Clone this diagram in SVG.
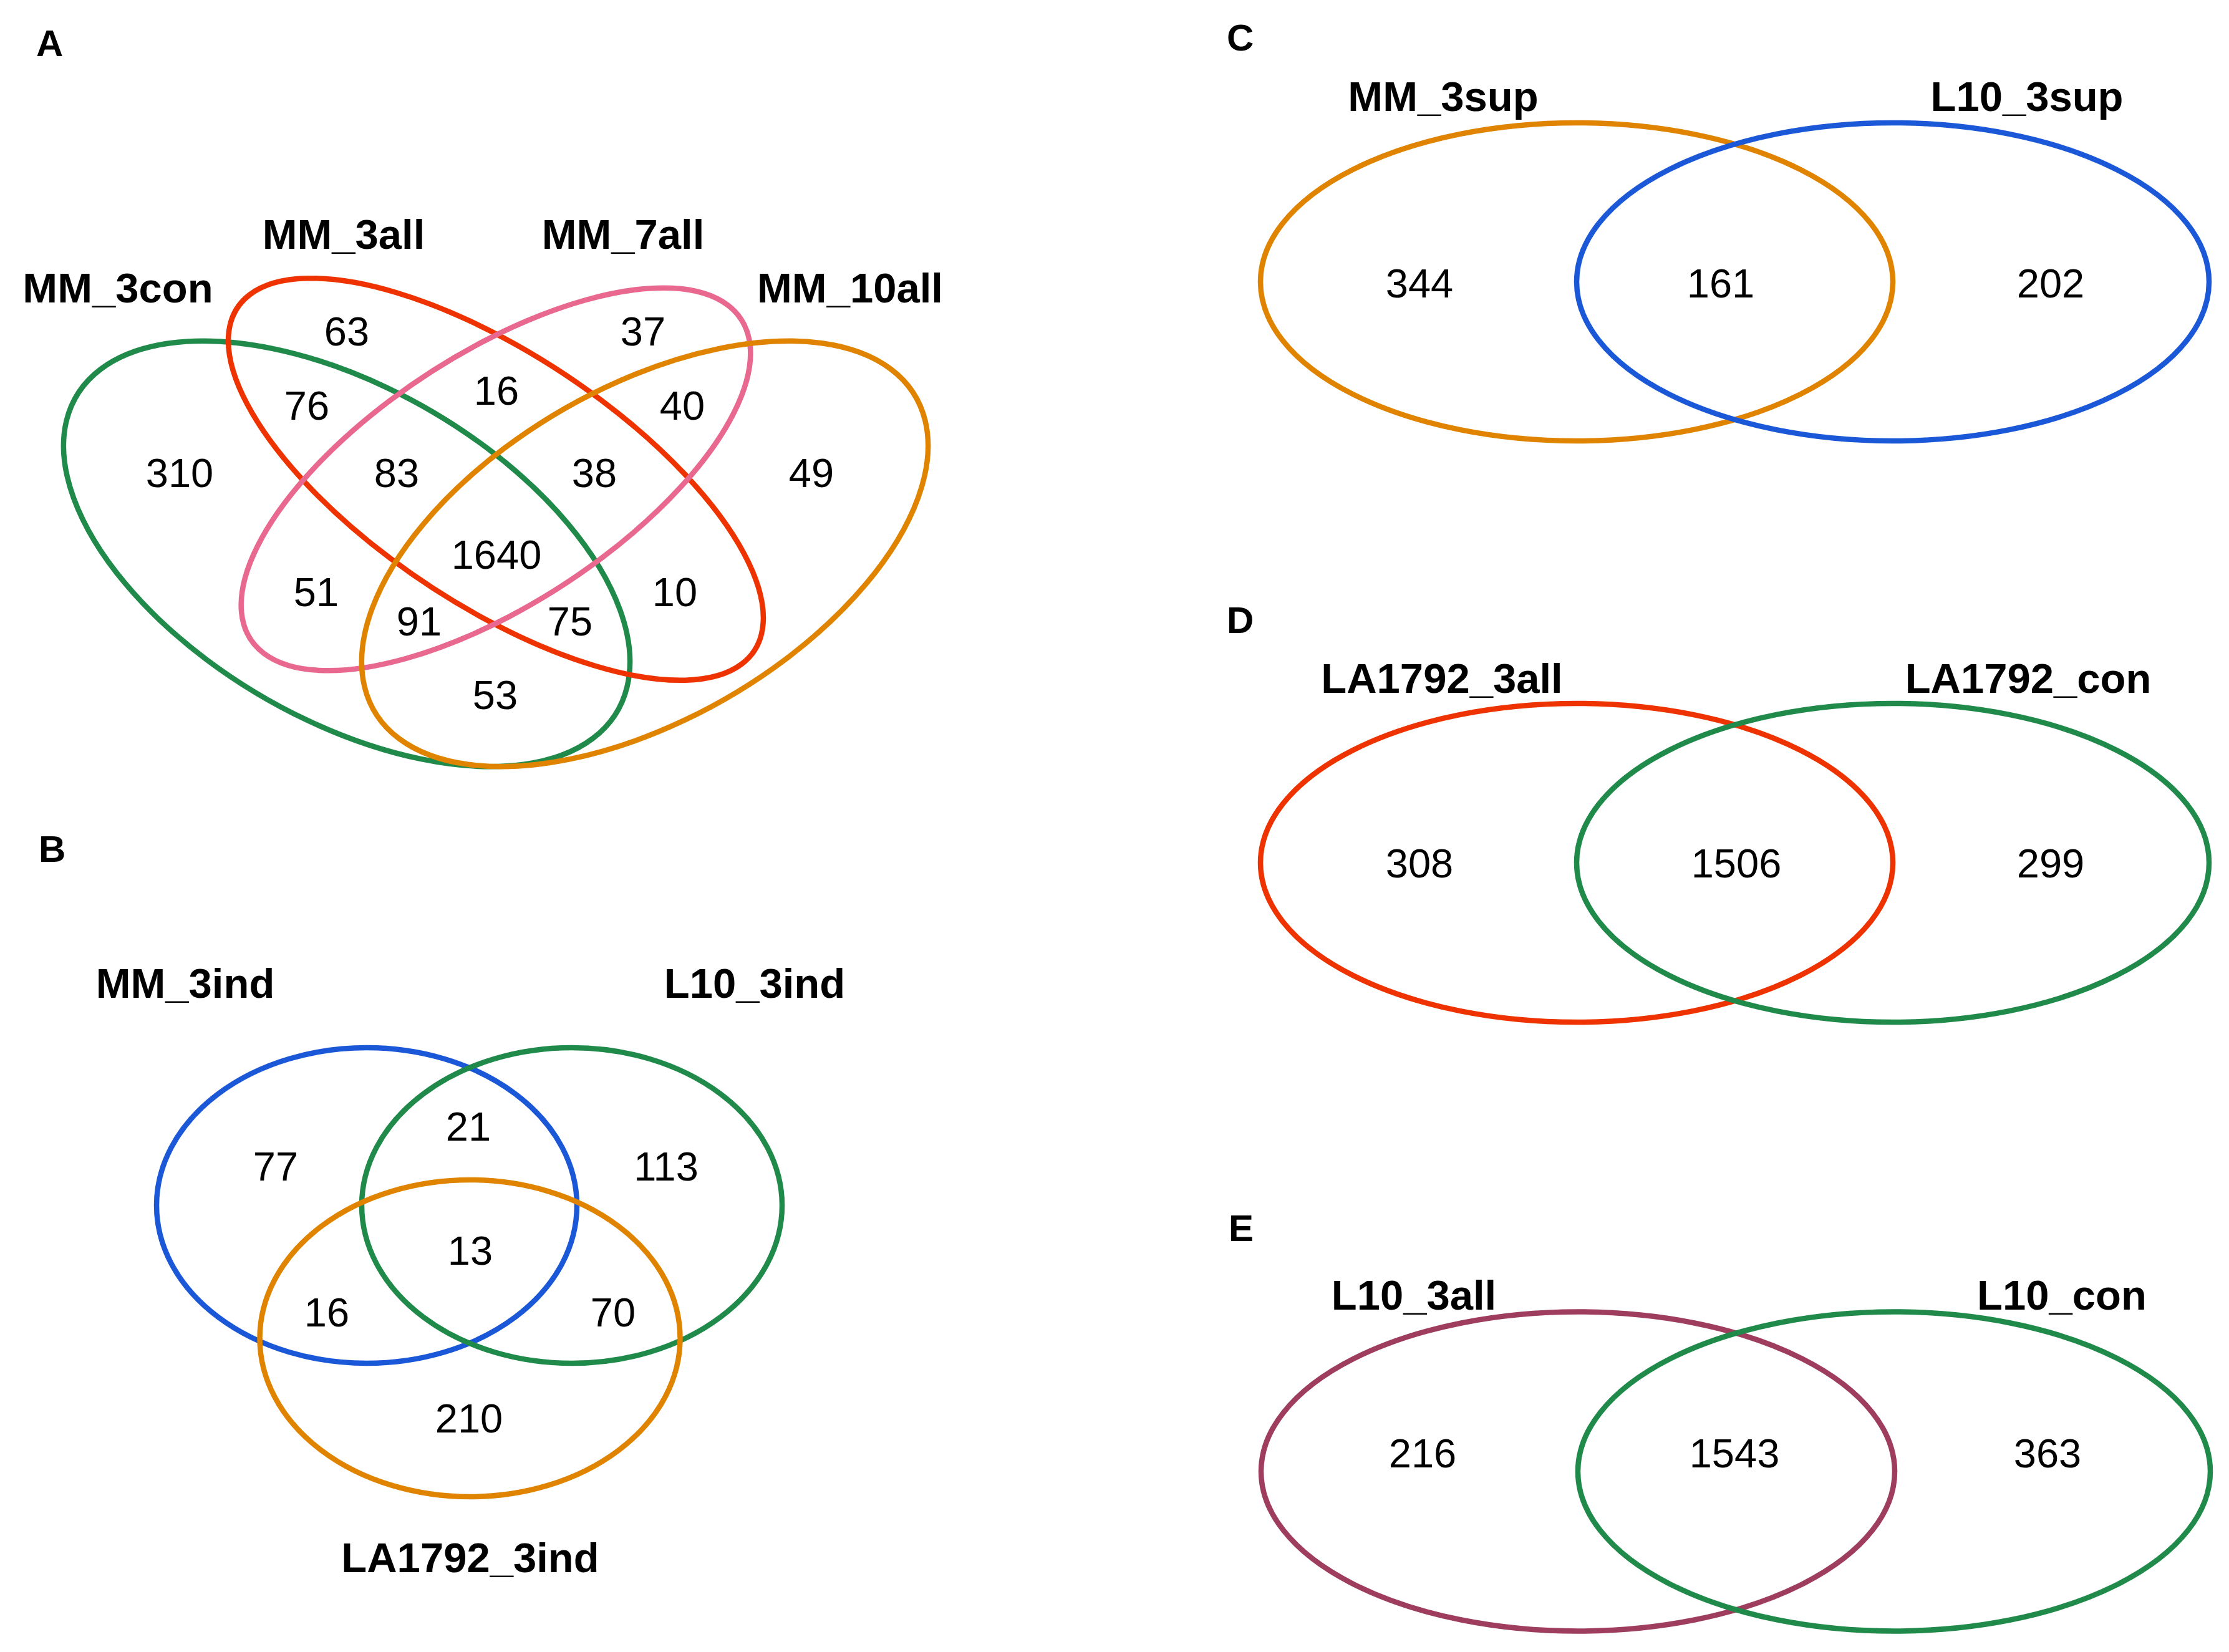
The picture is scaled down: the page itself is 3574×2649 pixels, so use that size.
<svg xmlns="http://www.w3.org/2000/svg" width="3574" height="2649" viewBox="0 0 3574 2649">
<style>
.bg{fill:#ffffff}
.set{fill:none;stroke-width:8.5}
.ns{vector-effect:non-scaling-stroke}
.lbl{font-family:"Liberation Sans",Arial,sans-serif;font-weight:bold;font-size:67px;fill:#000;text-anchor:middle}
.num{font-family:"Liberation Sans",Arial,sans-serif;font-size:65px;fill:#000;text-anchor:middle}
.pl{font-family:"Liberation Sans",Arial,sans-serif;font-weight:bold;font-size:60px;fill:#000}
.green{stroke:#1F8A4A}
.red{stroke:#EE3300}
.pink{stroke:#E8688F}
.orange{stroke:#E08400}
.blue{stroke:#1A58D8}
.maroon{stroke:#9E3D5E}
</style>
<rect class="bg" x="0" y="0" width="3574" height="2649"/>

<!-- Panel A -->
<g id="panelA">
  <text class="pl" x="58" y="90">A</text>
  <g id="A_MM_3con">
    <ellipse class="set ns green" cx="0" cy="0" rx="0.35" ry="0.20" transform="translate(556,888) scale(1593,1197) rotate(45)"/>
    <text class="lbl" x="189" y="485">MM_3con</text>
  </g>
  <g id="A_MM_3all">
    <ellipse class="set ns red" cx="0" cy="0" rx="0.35" ry="0.15" transform="translate(795,768.5) scale(1593,1197) rotate(45)"/>
    <text class="lbl" x="551" y="399">MM_3all</text>
  </g>
  <g id="A_MM_7all">
    <ellipse class="set ns pink" cx="0" cy="0" rx="0.33" ry="0.15" transform="translate(795,768.5) scale(1593,1197) rotate(-45)"/>
    <text class="lbl" x="999" y="399">MM_7all</text>
  </g>
  <g id="A_MM_10all">
    <ellipse class="set ns orange" cx="0" cy="0" rx="0.35" ry="0.20" transform="translate(1034,888) scale(1593,1197) rotate(-45)"/>
    <text class="lbl" x="1363" y="485">MM_10all</text>
  </g>
  <g id="A_counts">
    <text class="num" x="556" y="554">63</text>
    <text class="num" x="1031" y="554">37</text>
    <text class="num" x="796" y="649">16</text>
    <text class="num" x="492" y="673">76</text>
    <text class="num" x="1094" y="673">40</text>
    <text class="num" x="288" y="781">310</text>
    <text class="num" x="636" y="781">83</text>
    <text class="num" x="953" y="781">38</text>
    <text class="num" x="1301" y="781">49</text>
    <text class="num" x="796" y="912">1640</text>
    <text class="num" x="507" y="972">51</text>
    <text class="num" x="1082" y="972">10</text>
    <text class="num" x="672" y="1019">91</text>
    <text class="num" x="914" y="1019">75</text>
    <text class="num" x="794" y="1137">53</text>
  </g>
</g>

<!-- Panel B -->
<g id="panelB">
  <text class="pl" x="62" y="1382">B</text>
  <g id="B_MM_3ind">
    <ellipse class="set blue" cx="588" cy="1933" rx="337" ry="253"/>
    <text class="lbl" x="297" y="1600">MM_3ind</text>
  </g>
  <g id="B_L10_3ind">
    <ellipse class="set green" cx="917" cy="1933" rx="337" ry="253"/>
    <text class="lbl" x="1210" y="1600">L10_3ind</text>
  </g>
  <g id="B_LA1792_3ind">
    <ellipse class="set orange" cx="753.5" cy="2146" rx="337" ry="254"/>
    <text class="lbl" x="754" y="2521">LA1792_3ind</text>
  </g>
  <g id="B_counts">
    <text class="num" x="442" y="1893">77</text>
    <text class="num" x="751" y="1829">21</text>
    <text class="num" x="1068" y="1893">113</text>
    <text class="num" x="754" y="2028">13</text>
    <text class="num" x="524" y="2127">16</text>
    <text class="num" x="983" y="2127">70</text>
    <text class="num" x="752" y="2297">210</text>
  </g>
</g>

<!-- Panel C -->
<g id="panelC">
  <text class="pl" x="1967" y="81">C</text>
  <g id="C_MM_3sup">
    <ellipse class="set orange" cx="2528" cy="452" rx="507" ry="255"/>
    <text class="lbl" x="2314" y="178">MM_3sup</text>
  </g>
  <g id="C_L10_3sup">
    <ellipse class="set blue" cx="3035" cy="452" rx="507" ry="255"/>
    <text class="lbl" x="3250" y="178">L10_3sup</text>
  </g>
  <g id="C_counts">
    <text class="num" x="2276" y="477">344</text>
    <text class="num" x="2759" y="477">161</text>
    <text class="num" x="3288" y="477">202</text>
  </g>
</g>

<!-- Panel D -->
<g id="panelD">
  <text class="pl" x="1967" y="1015">D</text>
  <g id="D_LA1792_3all">
    <ellipse class="set red" cx="2528" cy="1383.5" rx="507" ry="255.5"/>
    <text class="lbl" x="2312" y="1111">LA1792_3all</text>
  </g>
  <g id="D_LA1792_con">
    <ellipse class="set green" cx="3035" cy="1383.5" rx="507" ry="255.5"/>
    <text class="lbl" x="3252" y="1111">LA1792_con</text>
  </g>
  <g id="D_counts">
    <text class="num" x="2276" y="1407">308</text>
    <text class="num" x="2784" y="1407">1506</text>
    <text class="num" x="3288" y="1407">299</text>
  </g>
</g>

<!-- Panel E -->
<g id="panelE">
  <text class="pl" x="1970" y="1990">E</text>
  <g id="E_L10_3all">
    <ellipse class="set maroon" cx="2530" cy="2359.5" rx="508" ry="256"/>
    <text class="lbl" x="2267" y="2100">L10_3all</text>
  </g>
  <g id="E_L10_con">
    <ellipse class="set green" cx="3037" cy="2359.5" rx="507" ry="256"/>
    <text class="lbl" x="3306" y="2100">L10_con</text>
  </g>
  <g id="E_counts">
    <text class="num" x="2281" y="2353">216</text>
    <text class="num" x="2781" y="2353">1543</text>
    <text class="num" x="3283" y="2353">363</text>
  </g>
</g>

<g id="connectors"></g>
</svg>
